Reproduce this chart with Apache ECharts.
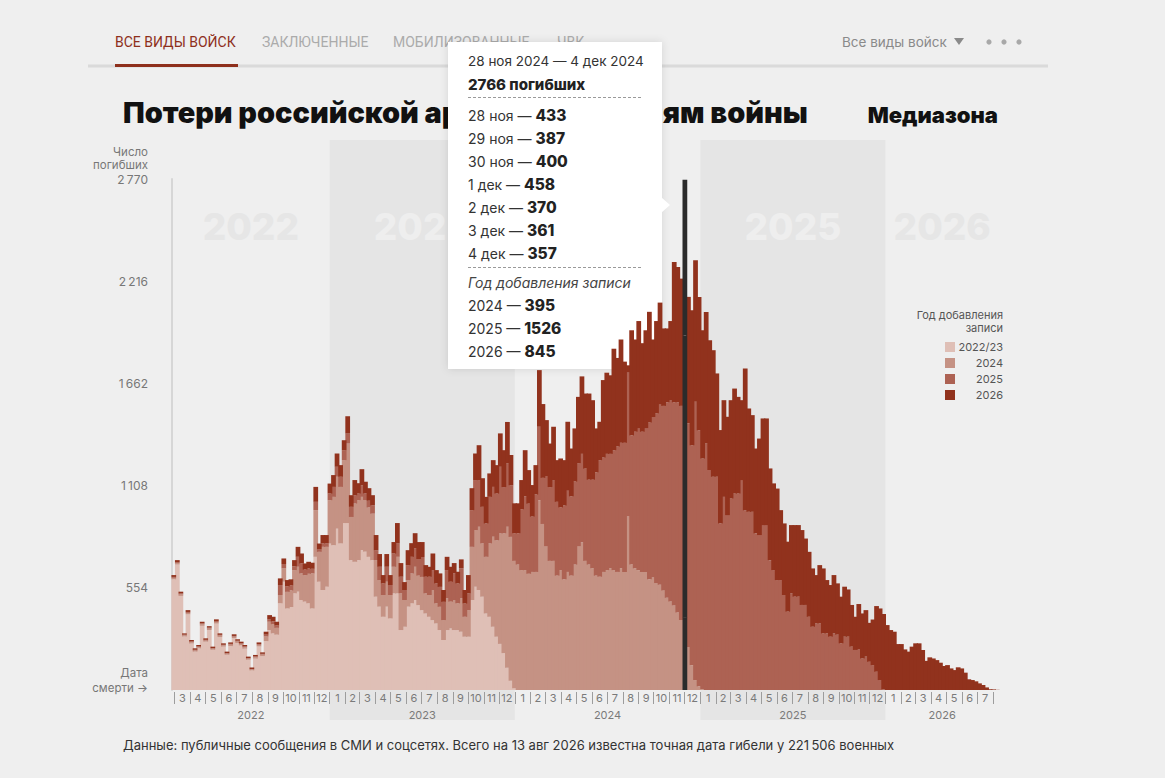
<!DOCTYPE html>
<html><head><meta charset="utf-8">
<script src="https://cdn.jsdelivr.net/npm/echarts@6/dist/echarts.min.js"></script>
<style>html,body{margin:0;padding:0;background:#efefef;}#c{width:1165px;height:778px;}</style>
</head><body><div id="c"></div>
<script>
// ---------- data ----------
const startDate = [2022, 2, 24];      // first week starts Thu 24 Feb 2022
const weekCount = 233;
const yTicks = [554, 1108, 1662, 2216, 2770];
const yearLabels = ['2022', '2023', '2024', '2025', '2026'];
const seriesNames = ['2022/23', '2024', '2025', '2026'];
const seriesColors = ['#dfbfb6', '#c59284', '#ad6253', '#91321d'];

const rec2223 = [600,680,510,290,410,252,208,226,348,262,325,218,360,287,235,191,238,281,255,242,224,164,106,170,236,184,
265,325,307,300,
470,587,442,450,524,533,488,479,470,442,722,587,542,560,
794,785,875,795,905,905,704,695,704,758,750,722,704,
506,452,397,452,388,524,524,325,343,452,470,488,460,433,415,397,379,361,325,271,325,334,325,325,316,289,289,
488,560,542,506,415,397,343,289,250,200,120,50,10,
0,0,0,0,0,0,0,0,0,0,0,0,0,0,0,0,0,0,0,0,0,0,0,0,0,0,0,0,0,0,0,0,0,0,0,0,0,0,0,0,0,0,0,0,0,0,0,0,0,0,0,0,0,
0,0,0,0,0,0,0,0,0,0,0,0,0,0,0,0,0,0,0,0,0,0,0,0,0,0,0,0,0,0,0,0,0,0,0,0,0,0,0,0,0,0,0,0,0,0,0,0,0,0,0,
0,0,0,0,0,0,0,0,0,0,0,0,0,0,0,0,0,0,0,0,0,0,0,0,0,0,0,0,0,0,0,0];
const rec2024 = [8,8,8,6,8,7,6,6,8,6,8,6,9,8,7,6,8,8,8,8,8,6,5,8,9,8,
25,45,50,37,
45,72,90,90,126,135,144,144,160,190,253,162,234,216,
235,262,281,306,341,431,234,316,325,289,280,268,252,
198,144,118,135,127,144,198,199,145,144,162,180,160,180,109,118,163,109,126,108,172,145,163,145,181,108,144,
288,307,343,289,307,398,488,523,599,650,765,780,
690,680,650,650,630,640,640,1029,900,780,700,700,620,650,600,640,620,680,780,800,700,680,660,620,614,640,650,660,650,640,660,640,940,680,660,650,640,640,600,610,580,570,540,500,480,460,420,380,
395,233,135,54,20,5,
0,0,0,0,0,0,0,0,0,0,0,0,0,0,0,0,0,0,0,0,0,0,0,0,0,0,0,0,0,0,0,0,0,0,0,0,0,0,0,0,0,0,0,0,0,0,0,0,0,0,0,
0,0,0,0,0,0,0,0,0,0,0,0,0,0,0,0,0,0,0,0,0,0,0,0,0,0,0,0,0,0,0,0];
const rec2025 = [5,5,5,4,5,4,4,4,5,4,5,3,5,4,3,3,4,4,4,4,4,3,3,4,4,4,
10,12,15,13,
54,24,30,28,20,54,54,30,30,25,45,15,20,20,
36,54,54,55,54,54,55,45,36,63,36,36,45,
54,72,63,81,54,72,72,90,54,81,90,99,90,108,90,99,108,108,108,99,153,108,145,108,163,72,91,
199,271,253,198,181,252,270,253,361,250,343,280,
150,170,330,400,380,300,420,398,250,380,400,438,400,340,400,440,430,450,450,480,500,460,480,560,632,620,630,620,650,680,680,700,780,700,740,770,760,780,850,870,920,980,1000,1060,1090,1100,1140,1160,
1526,1212,1192,1508,1388,1250,
1336,1192,1156,1156,903,1047,948,1038,1065,1065,1138,975,966,966,849,840,894,894,704,650,596,596,515,425,524,506,506,461,461,397,343,361,361,307,307,289,307,300,253,289,289,235,217,222,171,181,153,135,99,54,4,
0,0,0,0,0,0,0,0,0,0,0,0,0,0,0,0,0,0,0,0,0,0,0,0,0,0,0,0,0,0,0,0];
const rec2026 = [10,11,10,7,10,8,8,8,9,8,8,8,9,8,8,8,8,9,8,8,8,8,8,8,9,8,
16,24,25,20,
36,30,34,32,34,54,54,33,35,33,81,30,44,44,
54,64,72,63,54,94,63,82,56,87,63,68,55,
82,69,45,69,54,62,111,74,43,81,74,83,92,81,63,54,90,72,73,64,72,81,55,63,48,73,99,
119,144,189,155,144,127,145,154,181,200,225,164,
162,162,158,250,182,171,159,307,400,303,236,289,226,265,246,374,259,288,359,420,407,467,431,238,208,420,440,426,550,480,560,440,40,570,500,580,480,530,600,420,500,550,420,400,430,760,733,690,
845,686,731,768,723,695,
713,704,686,560,506,524,533,533,569,524,433,768,560,524,460,523,578,578,497,470,496,379,388,379,370,388,388,406,360,352,316,262,316,352,289,280,316,278,253,271,256,226,180,244,244,252,211,247,356,388,408,
352,325,316,249,249,220,208,235,253,253,217,158,177,171,162,148,130,135,117,108,123,117,94,58,54,47,36,27,14,4,3,1];

const hoverWeek = 144;
const tipRange = '28 ноя 2024 — 4 дек 2024';
const tipTotal = 2766;
const tipDays = ['28 ноя', '29 ноя', '30 ноя', '1 дек', '2 дек', '3 дек', '4 дек'];
const tipDayValues = [433, 387, 400, 458, 370, 361, 357];
const tipYears = ['2024', '2025', '2026'];
const tipYearValues = [395, 1526, 845];

// ---------- helpers ----------
const FONT = 'Inter, Roboto, "Noto Sans", sans-serif';
const dayMs = 86400000;
const t0 = Date.UTC(startDate[0], startDate[1] - 1, startDate[2]);
const totalDays = weekCount * 7;
const off = (y, m) => (Date.UTC(y, m - 1, 1) - t0) / dayMs;
const fmt = v => String(v).replace(/\B(?=(\d{3})+(?!\d))/g, '\u2009');

const weekLabels = [];
for (let i = 0; i < weekCount; i++) {
  const d = new Date(t0 + i * 7 * dayMs);
  weekLabels.push(d.toISOString().slice(0, 10));
}
const monthTicks = [], monthMids = [], monthNames = [];
for (let y = 2022; y <= 2026; y++) for (let m = 1; m <= 12; m++) {
  const s = off(y, m), e = m === 12 ? off(y + 1, 1) : off(y, m + 1);
  if (s >= 0 && s <= totalDays) monthTicks.push(s);
  if (s >= 0 && e <= totalDays) { monthMids.push((s + e) / 2); monthNames.push(String(m)); }
}
const yearMids = yearLabels.map(y => {
  const yy = +y;
  const s = Math.max(0, off(yy, 1)), e = Math.min(totalDays, off(yy + 1, 1));
  return (s + e) / 2;
});
const nearest = (arr, v) => { let b = 0; arr.forEach((a, i) => { if (Math.abs(a - v) < Math.abs(arr[b] - v)) b = i; }); return b; };

const allSeries = [rec2223, rec2024, rec2025, rec2026];
// stack the layers: [weekIndex, base, top]
const stacked = allSeries.map(() => []);
for (let i = 0; i < weekCount; i++) {
  let base = 0;
  allSeries.forEach((arr, k) => { stacked[k].push([i, base, base + arr[i]]); base += arr[i]; });
}

const chart = echarts.init(document.getElementById('c'), null, { renderer: 'svg', width: 1165, height: 778 });

chart.setOption({
  backgroundColor: '#efefef',
  animation: false,
  textStyle: { fontFamily: FONT },
  grid: { left: 172, right: 166, top: 179, bottom: 88, containLabel: false },
  xAxis: [
    { type: 'category', data: weekLabels, show: false, boundaryGap: true },
    { type: 'value', min: 0, max: totalDays, position: 'bottom', offset: 2,
      axisLine: { show: false }, splitLine: { show: false },
      axisTick: { show: true, length: 12, lineStyle: { color: '#9d9d9d', width: 1 }, customValues: monthTicks },
      axisLabel: { customValues: monthMids, formatter: v => monthNames[nearest(monthMids, v)],
        color: '#7a7a7a', fontSize: 11, margin: 0, fontFamily: FONT } },
    { type: 'value', min: 0, max: totalDays, position: 'bottom', offset: 2,
      axisLine: { show: false }, axisTick: { show: false }, splitLine: { show: false },
      axisLabel: { customValues: yearMids, formatter: v => yearLabels[nearest(yearMids, v)],
        color: '#7a7a7a', fontSize: 11, margin: 17, fontFamily: FONT } }
  ],
  yAxis: {
    type: 'value', min: 0, max: yTicks[yTicks.length - 1], interval: yTicks[0], offset: 10,
    axisLine: { show: true, lineStyle: { color: '#d6d6d6', width: 2 } },
    axisTick: { show: false }, splitLine: { show: false },
    axisLabel: { color: '#777', fontSize: 12, margin: 14, fontFamily: FONT,
      formatter: v => (v === 0 ? '' : fmt(v)) }
  },
  series: seriesNames.map((n, k) => ({
    name: n, type: 'custom', xAxisIndex: 0, yAxisIndex: 0, silent: true,
    encode: { x: 0, y: [1, 2] },
    data: stacked[k],
    renderItem: (params, api) => {
      const i = api.value(0);
      const p0 = api.coord([i, api.value(1)]);
      const p1 = api.coord([i, api.value(2)]);
      const w = api.size([1, 0])[0];
      const h = p0[1] - p1[1];
      if (h <= 0) return null;
      const hov = i === hoverWeek;
      return { type: 'rect', z2: hov ? 50 : 0,
        shape: { x: p0[0] - w / 2 - 0.6, y: p1[1], width: w + 1.2, height: h },
        style: { fill: hov ? '#2b2b2b' : seriesColors[k] } };
    }
  }))
});

// ---------- decorations ----------
const px = d => chart.convertToPixel({ xAxisIndex: 1 }, d);
const g = [];
// shaded year bands
[2023, 2025].forEach(y => {
  const x1 = px(off(y, 1)), x2 = px(off(y + 1, 1));
  g.push({ type: 'rect', z: -5, silent: true, shape: { x: x1, y: 140, width: x2 - x1, height: 580 }, style: { fill: '#e5e5e5' } });
});
// big faint year labels
yearLabels.forEach((y, i) => {
  const shaded = (y === '2023' || y === '2025');
  g.push({ type: 'text', z: -4, silent: true, x: px(yearMids[i]), y: 226,
    style: { text: y, fill: shaded ? '#eeeeee' : '#e6e6e6', fontSize: 37, fontWeight: 800, fontFamily: FONT, align: 'center', verticalAlign: 'middle' } });
});
// axis captions
const cap = (t, x, y) => ({ type: 'text', silent: true, x, y, style: { text: t, fill: '#777', fontSize: 11.5, fontFamily: FONT, align: 'right', verticalAlign: 'middle' } });
g.push(cap('Число', 148, 152), cap('погибших', 148, 165), cap('Дата', 148, 673), cap('смерти →', 148, 688));

// header tabs
const tab = (t, x, c) => ({ type: 'text', silent: true, x, y: 42, style: { text: t, fill: c, fontSize: 14, fontFamily: 'Roboto, sans-serif', align: 'left', verticalAlign: 'middle' } });
g.push({ type: 'rect', silent: true, shape: { x: 88, y: 64.5, width: 960, height: 3 }, style: { fill: '#dadada' } });
g.push({ type: 'rect', silent: true, shape: { x: 115, y: 64, width: 123, height: 3 }, style: { fill: '#8e2f1c' } });
g.push(tab('ВСЕ ВИДЫ ВОЙСК', 115, '#8e2f1c'), tab('ЗАКЛЮЧЕННЫЕ', 262, '#ababab'), tab('МОБИЛИЗОВАННЫЕ', 393, '#ababab'), tab('ЧВК', 557, '#ababab'));
g.push({ type: 'text', silent: true, x: 842, y: 42, style: { text: 'Все виды войск', fill: '#8a8a8a', fontSize: 13.5, fontFamily: FONT, align: 'left', verticalAlign: 'middle' } });
g.push({ type: 'polygon', silent: true, shape: { points: [[954, 38], [964, 38], [959, 45]] }, style: { fill: '#8a8a8a' } });
[989, 1004, 1019].forEach(x => g.push({ type: 'circle', silent: true, shape: { cx: x, cy: 42, r: 2.6 }, style: { fill: '#a8a8a8' } }));

// title
g.push({ type: 'text', silent: true, x: 123, y: 112, style: { text: 'Потери российской армии по неделям войны', fill: '#111', fontSize: 28.9, fontWeight: 900, fontFamily: FONT, align: 'left', verticalAlign: 'middle' } });
g.push({ type: 'text', silent: true, x: 998, y: 115, style: { text: 'Медиазона', fill: '#111', fontSize: 22, fontWeight: 900, fontFamily: FONT, align: 'right', verticalAlign: 'middle' } });

// legend
const lg = (t, y) => ({ type: 'text', silent: true, x: 1003, y, style: { text: t, fill: '#555', fontSize: 11, fontFamily: FONT, align: 'right', verticalAlign: 'middle' } });
g.push(lg('Год добавления', 315), lg('записи', 328));
seriesNames.forEach((n, k) => {
  const y = 347 + k * 16;
  g.push({ type: 'rect', silent: true, shape: { x: 945, y: y - 5, width: 10, height: 10 }, style: { fill: seriesColors[k] } });
  g.push(lg(n, y));
});

// footer
g.push({ type: 'text', silent: true, x: 123, y: 745, style: { text: 'Данные: публичные сообщения в СМИ и соцсетях. Всего на 13 авг 2026 известна точная дата гибели у ' + fmt(221506) + ' военных', fill: '#333', fontSize: 13, fontFamily: FONT, align: 'left', verticalAlign: 'middle' } });

// tooltip box
const tip = [];
tip.push({ type: 'rect', shape: { x: 448, y: 42, width: 214, height: 327 }, style: { fill: '#fff', shadowBlur: 8, shadowColor: 'rgba(0,0,0,0.12)' } });
tip.push({ type: 'polygon', shape: { points: [[661, 197], [670, 205], [661, 213]] }, style: { fill: '#fff' } });
const rich = { n: { fontSize: 14, fill: '#333', fontFamily: FONT }, b: { fontSize: 15.5, fontWeight: 800, fill: '#222', fontFamily: FONT } };
const tline = (txt, y) => ({ type: 'text', x: 468, y, style: { text: txt, rich, align: 'left', verticalAlign: 'middle' } });
tip.push({ type: 'text', x: 468, y: 61, style: { text: tipRange, fill: '#333', fontSize: 13.5, fontFamily: FONT, align: 'left', verticalAlign: 'middle' } });
tip.push({ type: 'text', x: 468, y: 84, style: { text: String(tipTotal) + ' погибших', fill: '#222', fontSize: 15, fontWeight: 800, fontFamily: FONT, align: 'left', verticalAlign: 'middle' } });
tip.push({ type: 'line', shape: { x1: 468, y1: 97.5, x2: 643, y2: 97.5 }, style: { stroke: '#9a9a9a', lineWidth: 1, lineDash: [3, 2] } });
tipDays.forEach((d, i) => tip.push(tline('{n|' + d + ' — }{b|' + tipDayValues[i] + '}', 115 + i * 23)));
tip.push({ type: 'line', shape: { x1: 468, y1: 267.5, x2: 643, y2: 267.5 }, style: { stroke: '#9a9a9a', lineWidth: 1, lineDash: [3, 2] } });
tip.push({ type: 'text', x: 468, y: 282, style: { text: 'Год добавления записи', fill: '#444', fontSize: 14, fontStyle: 'italic', fontFamily: FONT, align: 'left', verticalAlign: 'middle' } });
tipYears.forEach((y, i) => tip.push(tline('{n|' + y + ' — }{b|' + tipYearValues[i] + '}', 305 + i * 23)));
g.push({ type: 'group', z: 100, silent: true, children: tip });

chart.setOption({ graphic: g });
</script>
</body></html>
